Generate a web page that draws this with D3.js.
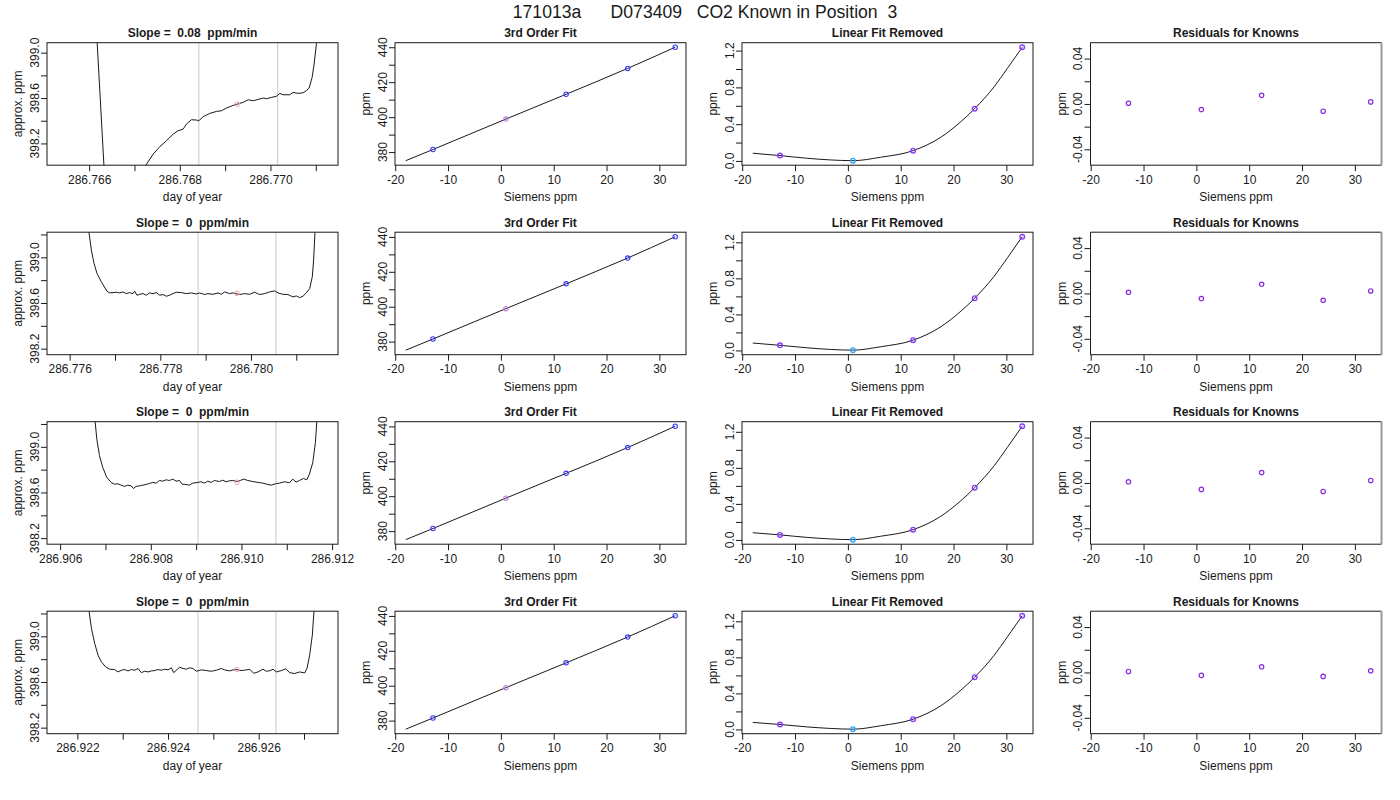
<!DOCTYPE html>
<html><head><meta charset="utf-8">
<script src="https://cdn.jsdelivr.net/npm/d3@7"></script>
<style>
body{margin:0;background:#fff}
svg{display:block;font-family:"Liberation Sans",Arial,Helvetica,sans-serif}
</style>
</head><body>
<svg id="chart" width="1400" height="800"></svg>
<script>
// ---------------- DATA ----------------
const mainTitle = "171013a      D073409   CO2 Known in Position  3";
const slopeTitles = ["Slope =  0.08  ppm/min", "Slope =  0  ppm/min", "Slope =  0  ppm/min", "Slope =  0  ppm/min"];

// time traces (day of year, approx. ppm)
const trace1 = [[286.76615,399.28],[286.76637,397.69],[286.76682,397.40],[286.76719,397.81],
[286.767243,398.003],[286.767412,398.106],[286.767559,398.171],[286.767706,398.224],[286.767853,398.282],[286.767963,398.312],
[286.768074,398.326],[286.768147,398.371],[286.768257,398.409],[286.768368,398.406],[286.768419,398.400],[286.768515,398.435],
[286.768662,398.465],[286.768809,398.482],[286.768919,398.488],[286.769029,398.512],[286.769176,398.535],[286.769272,398.547],
[286.769397,398.562],[286.769507,398.585],[286.769618,398.576],[286.769728,398.588],[286.769838,398.600],[286.769912,398.594],
[286.770022,398.606],[286.770132,398.615],[286.770206,398.641],[286.770279,398.629],[286.770426,398.629],[286.770500,398.650],
[286.770610,398.641],[286.770721,398.647],[286.770794,398.665],[286.770853,398.688],[286.770919,398.782],[286.770963,398.900],
[286.771015,399.082],[286.771051,399.282]];

const trace2 = [[286.776382,399.359],[286.776426,399.218],[286.776478,399.065],[286.776537,398.947],[286.776603,398.859],
[286.776699,398.785],[286.776824,398.703],[286.776882,398.688],[286.776956,398.691],[286.777029,398.694],[286.777103,398.688],
[286.777176,398.697],[286.777250,398.682],[286.777324,398.691],[286.777397,398.682],[286.777434,398.703],[286.777485,398.668],
[286.777544,398.676],[286.777618,398.682],[286.777691,398.668],[286.777765,398.688],[286.777838,398.682],[286.777912,398.691],
[286.777985,398.668],[286.778059,398.674],[286.778132,398.659],[286.778206,398.668],[286.778279,398.682],[286.778353,398.694],
[286.778463,398.691],[286.778574,398.682],[286.778684,398.688],[286.778794,398.679],[286.778868,398.688],[286.778978,398.674],
[286.779051,398.682],[286.779162,398.676],[286.779272,398.688],[286.779346,398.676],[286.779419,398.697],[286.779529,398.682],
[286.779603,398.688],[286.779750,398.674],[286.779860,398.682],[286.779971,398.676],[286.780081,398.694],[286.780191,398.674],
[286.780301,398.682],[286.780412,398.697],[286.780522,398.706],[286.780596,398.688],[286.780706,398.676],[286.780816,398.674],
[286.780926,398.653],[286.781000,398.662],[286.781074,398.647],[286.781147,398.659],[286.781221,398.688],[286.781294,398.726],
[286.781353,398.829],[286.781382,398.976],[286.781412,399.218],[286.781426,399.359]];

const trace3 = [[286.906743,399.360],[286.906772,399.220],[286.906809,399.068],[286.906868,398.922],[286.906941,398.819],
[286.907029,398.732],[286.907125,398.688],[286.907199,398.673],[286.907272,398.676],[286.907346,398.664],[286.907419,398.653],
[286.907493,398.664],[286.907566,398.658],[286.907618,398.635],[286.907676,398.653],[286.907750,398.658],[286.907824,398.664],
[286.907897,398.670],[286.907971,398.679],[286.908044,398.688],[286.908118,398.682],[286.908191,398.705],[286.908265,398.699],
[286.908338,398.711],[286.908412,398.705],[286.908485,398.717],[286.908559,398.699],[286.908632,398.705],[286.908691,398.673],
[286.908779,398.670],[286.908853,398.664],[286.908926,398.682],[286.909037,398.688],[286.909110,398.694],[286.909184,398.682],
[286.909257,398.699],[286.909331,398.688],[286.909404,398.705],[286.909515,398.696],[286.909588,398.708],[286.909662,398.694],
[286.909735,398.702],[286.909809,398.705],[286.909897,398.696],[286.909971,398.705],[286.910051,398.717],[286.910140,398.705],
[286.910250,398.696],[286.910360,398.688],[286.910471,398.682],[286.910581,398.670],[286.910654,398.664],[286.910750,398.676],
[286.910838,398.682],[286.910949,398.694],[286.911059,398.685],[286.911132,398.717],[286.911206,398.691],[286.911279,398.705],
[286.911368,398.723],[286.911441,398.711],[286.911500,398.761],[286.911574,398.863],[286.911632,399.039],[286.911662,399.220],
[286.911684,399.360]];

const trace4 = [[286.922213,399.365],[286.922257,399.224],[286.922309,399.071],[286.922382,398.938],[286.922456,398.835],
[286.922529,398.776],[286.922625,398.732],[286.922713,398.712],[286.922824,398.709],[286.922897,398.688],[286.922971,398.703],
[286.923044,398.709],[286.923118,398.697],[286.923191,398.709],[286.923265,398.703],[286.923338,398.718],[286.923412,398.682],
[286.923485,398.694],[286.923559,398.688],[286.923632,398.697],[286.923706,398.700],[286.923779,398.709],[286.923853,398.703],
[286.923926,398.712],[286.924000,398.706],[286.924074,398.724],[286.924125,398.682],[286.924184,398.703],[286.924257,398.729],
[286.924331,398.718],[286.924404,398.712],[286.924478,398.724],[286.924551,398.718],[286.924625,398.694],[286.924735,398.706],
[286.924846,398.700],[286.924956,398.694],[286.925066,398.703],[286.925176,398.718],[286.925250,398.706],[286.925360,398.697],
[286.925434,398.706],[286.925522,398.709],[286.925581,398.700],[286.925691,398.703],[286.925801,398.712],[286.925890,398.676],
[286.925985,398.688],[286.926096,398.712],[286.926169,398.694],[286.926257,398.700],[286.926316,398.712],[286.926390,398.688],
[286.926500,398.700],[286.926596,398.715],[286.926684,398.682],[286.926794,398.674],[286.926904,398.688],[286.927015,398.679],
[286.927066,398.718],[286.927125,398.835],[286.927184,399.012],[286.927221,399.224],[286.927243,399.365]];

const traces = [trace1, trace2, trace3, trace4];
const dayDomains = [[286.76507,286.77149],[286.77550,286.78192],[286.90571,286.91213],[286.92133,286.92775]];
const ppmDomains = [[398.008,399.088],[398.147,399.220],[398.147,399.220],[398.147,399.220]];
const dayTicks = [
  [286.766,286.767,286.768,286.769,286.770,286.771],
  [286.776,286.777,286.778,286.779,286.780,286.781],
  [286.906,286.907,286.908,286.909,286.910,286.911,286.912],
  [286.922,286.923,286.924,286.925,286.926,286.927]];
const dayTickLabels = [
  [286.766,286.768,286.770],
  [286.776,286.778,286.780],
  [286.906,286.908,286.910,286.912],
  [286.922,286.924,286.926]];
const ppmTicks = [[398.2,398.4,398.6,398.8,399.0],[398.2,398.4,398.6,398.8,399.0,399.2],[398.2,398.4,398.6,398.8,399.0,399.2],[398.2,398.4,398.6,398.8,399.0,399.2]];
const ppmTickLabels = [398.2,398.6,399.0];
const windowStart = [286.76842,286.77883,286.90904,286.92466];
const windowEnd   = [286.77016,286.78055,286.91076,286.92638];
const markerDay = [286.76927,286.77969,286.90990,286.92552];
const markerPpm = [398.546,398.685,398.690,398.709];

// known standards
const siemensX = [-12.85, 0.95, 12.35, 24.0, 33.0];
const knownPpm = [
  [381.5, 398.9, 413.1, 427.9, 440.0],
  [381.5, 398.9, 413.1, 427.9, 440.1],
  [381.5, 398.9, 413.1, 427.9, 440.1],
  [381.5, 398.9, 413.1, 427.9, 440.1]];
const fitLineX = [-18, -12.85, 0.95, 12.35, 24.0, 33.0];
const fitLinePpm = [
  [375.1, 381.5, 398.9, 413.1, 427.9, 440.0],
  [375.1, 381.5, 398.9, 413.1, 427.9, 440.1],
  [375.1, 381.5, 398.9, 413.1, 427.9, 440.1],
  [375.1, 381.5, 398.9, 413.1, 427.9, 440.1]];
const residCurveX = [-18, -12.85, -7.7, -3.3, 0.95, 6.2, 12.35, 17.6, 21.4, 24.0, 27.7, 30.2, 33.0];
const residCurve = [
  [0.084, 0.058, 0.029, 0.011, 0.003, 0.040, 0.112, 0.258, 0.428, 0.569, 0.808, 1.008, 1.237],
  [0.082, 0.057, 0.029, 0.011, 0.003, 0.041, 0.114, 0.263, 0.436, 0.580, 0.824, 1.028, 1.262],
  [0.080, 0.056, 0.028, 0.011, 0.003, 0.041, 0.114, 0.263, 0.436, 0.580, 0.824, 1.028, 1.262],
  [0.078, 0.055, 0.028, 0.011, 0.003, 0.041, 0.114, 0.263, 0.436, 0.580, 0.824, 1.028, 1.262]];
const knownResid = [
  [0.058, 0.003, 0.112, 0.569, 1.237],
  [0.057, 0.003, 0.114, 0.580, 1.262],
  [0.056, 0.003, 0.114, 0.580, 1.262],
  [0.055, 0.003, 0.114, 0.580, 1.262]];
const knownResiduals = [
  [0.0006, -0.0050, 0.0076, -0.0064, 0.0018],
  [0.0010, -0.0045, 0.0081, -0.0060, 0.0022],
  [0.0010, -0.0057, 0.0092, -0.0075, 0.0022],
  [0.0009, -0.0026, 0.0050, -0.0035, 0.0015]];
const siemensTicks = [-20, -10, 0, 10, 20, 30];
const fitPpmTicks = [380, 390, 400, 410, 420, 430, 440];
const fitPpmTickLabels = [380, 400, 420, 440];
const residTicks = [0, 0.2, 0.4, 0.6, 0.8, 1.0, 1.2];
const residTickLabels = [0, 0.4, 0.8, 1.2];
const residualTicks = [-0.04, -0.02, 0, 0.02, 0.04];
const residualTickLabels = [-0.04, 0, 0.04];
const residualDomain = [-0.054, 0.054];

// ---------------- LAYOUT ----------------
const svg = d3.select("#chart");
const colLeft = [47, 395, 742, 1090.5];
const rowTop = [42.7, 232.2, 421.7, 611.2];
const boxW = 291, boxH = 122.5;
const ink = "#1a1a1a";

svg.append("text").attr("x", 705).attr("y", 17.5).attr("text-anchor", "middle")
  .attr("font-size", 17.6).attr("fill", ink).style("white-space", "pre").text(mainTitle);

function pad(ext) { const r = ext[1] - ext[0]; return [ext[0] - 0.04 * r, ext[1] + 0.04 * r]; }
const has = (arr, v) => arr.some(a => Math.abs(a - v) < 1e-9);
let clipId = 0;

function panel(r, c, opt) {
  const g = svg.append("g").attr("transform", `translate(${colLeft[c]},${rowTop[r]})`);
  const x = d3.scaleLinear().domain(opt.xDomain).range([0, boxW]);
  const y = d3.scaleLinear().domain(opt.yDomain).range([boxH, 0]);
  const id = "clip" + (clipId++);
  g.append("clipPath").attr("id", id).append("rect").attr("width", boxW).attr("height", boxH);
  const plot = g.append("g").attr("clip-path", `url(#${id})`);

  // x axis
  const xa = g.append("g").attr("transform", `translate(0,${boxH})`)
    .call(d3.axisBottom(x).tickValues(opt.xTicks).tickSize(6).tickPadding(4)
      .tickFormat(d => has(opt.xLabels, d) ? opt.xFmt(d) : ""));
  xa.select(".domain").remove();
  xa.selectAll("line").attr("stroke", ink);
  xa.selectAll("text").attr("font-size", 12).attr("fill", ink).attr("font-family", null);
  xa.attr("font-family", null);

  // y axis
  const ya = g.append("g").call(d3.axisLeft(y).tickValues(opt.yTicks).tickSize(6).tickFormat(""));
  ya.select(".domain").remove();
  ya.selectAll("line").attr("stroke", ink);
  opt.yLabels.forEach(v => {
    const yy = y(v);
    g.append("text").attr("transform", `translate(-8.5,${yy}) rotate(-90)`)
      .attr("text-anchor", "middle").attr("font-size", 12).attr("fill", ink).text(opt.yFmt(v));
  });

  // labels
  g.append("text").attr("x", boxW / 2).attr("y", -5.5).attr("text-anchor", "middle")
    .attr("font-size", 12).attr("font-weight", "bold").attr("fill", ink).style("white-space", "pre").text(opt.title);
  g.append("text").attr("x", boxW / 2).attr("y", boxH + 36).attr("text-anchor", "middle")
    .attr("font-size", 12).attr("fill", ink).text(opt.xTitle);
  g.append("text").attr("transform", `translate(-25,${boxH / 2}) rotate(-90)`).attr("text-anchor", "middle")
    .attr("font-size", 12).attr("fill", ink).text(opt.yTitle);

  opt.draw(plot, x, y);

  // box
  if (opt.grayRight) {
    g.append("path").attr("d", `M${boxW},${boxH}H0V0H${boxW}`).attr("fill", "none").attr("stroke", ink).attr("stroke-width", 1);
    g.append("line").attr("x1", boxW).attr("x2", boxW).attr("y1", 0).attr("y2", boxH).attr("stroke", "#999").attr("stroke-width", 2);
  } else {
    g.append("rect").attr("width", boxW).attr("height", boxH).attr("fill", "none").attr("stroke", ink).attr("stroke-width", 1);
  }
}

const siemensDomain = pad(d3.extent(fitLineX));

for (let r = 0; r < 4; r++) {
  // column 1: time trace
  panel(r, 0, {
    xDomain: dayDomains[r], yDomain: ppmDomains[r],
    xTicks: dayTicks[r], xLabels: dayTickLabels[r], xFmt: d3.format(".3f"),
    yTicks: ppmTicks[r], yLabels: ppmTickLabels, yFmt: d => d.toFixed(1),
    title: slopeTitles[r], xTitle: "day of year", yTitle: "approx. ppm",
    draw: (p, x, y) => {
      [windowStart[r], windowEnd[r]].forEach(v => {
        p.append("line").attr("x1", x(v)).attr("x2", x(v)).attr("y1", 0).attr("y2", boxH)
          .attr("stroke", "#c8c8c8").attr("stroke-width", 1);
      });
      p.append("path").datum(traces[r]).attr("fill", "none").attr("stroke", ink).attr("stroke-width", 1)
        .attr("d", d3.line().x(d => x(d[0])).y(d => y(d[1])));
      p.append("circle").attr("cx", x(markerDay[r])).attr("cy", y(markerPpm[r])).attr("r", 2.3)
        .attr("fill", "none").attr("stroke", "#f2a0a8").attr("stroke-width", 1);
    }
  });

  // column 2: 3rd order fit
  const fitDomain = pad(d3.extent(fitLinePpm[r]));
  panel(r, 1, {
    xDomain: siemensDomain, yDomain: fitDomain,
    xTicks: siemensTicks, xLabels: siemensTicks, xFmt: d => String(d),
    yTicks: fitPpmTicks, yLabels: fitPpmTickLabels, yFmt: d => String(d),
    title: "3rd Order Fit", xTitle: "Siemens ppm", yTitle: "ppm",
    draw: (p, x, y) => {
      p.append("path").datum(fitLineX.map((v, i) => [v, fitLinePpm[r][i]])).attr("fill", "none")
        .attr("stroke", ink).attr("stroke-width", 1)
        .attr("d", d3.line().curve(d3.curveMonotoneX).x(d => x(d[0])).y(d => y(d[1])));
      siemensX.forEach((v, i) => {
        p.append("circle").attr("cx", x(v)).attr("cy", y(knownPpm[r][i])).attr("r", 2.2)
          .attr("fill", "none").attr("stroke", i === 1 ? "#c07ee0" : "#3a3aff").attr("stroke-width", 1.1);
      });
    }
  });

  // column 3: linear fit removed
  const rDomain = pad(d3.extent(residCurve[r].concat(knownResid[r])));
  panel(r, 2, {
    xDomain: siemensDomain, yDomain: rDomain,
    xTicks: siemensTicks, xLabels: siemensTicks, xFmt: d => String(d),
    yTicks: residTicks, yLabels: residTickLabels, yFmt: d => d.toFixed(1),
    title: "Linear Fit Removed", xTitle: "Siemens ppm", yTitle: "ppm",
    draw: (p, x, y) => {
      p.append("path").datum(residCurveX.map((v, i) => [v, residCurve[r][i]])).attr("fill", "none")
        .attr("stroke", ink).attr("stroke-width", 1)
        .attr("d", d3.line().curve(d3.curveMonotoneX).x(d => x(d[0])).y(d => y(d[1])));
      siemensX.forEach((v, i) => {
        p.append("circle").attr("cx", x(v)).attr("cy", y(knownResid[r][i])).attr("r", 2.3)
          .attr("fill", "none").attr("stroke", i === 1 ? "#33a8ff" : "#8a3cff").attr("stroke-width", 1.4);
      });
    }
  });

  // column 4: residuals
  panel(r, 3, {
    xDomain: siemensDomain, yDomain: residualDomain,
    xTicks: siemensTicks, xLabels: siemensTicks, xFmt: d => String(d),
    yTicks: residualTicks, yLabels: residualTickLabels, yFmt: d => d.toFixed(2),
    title: "Residuals for Knowns", xTitle: "Siemens ppm", yTitle: "ppm", grayRight: true,
    draw: (p, x, y) => {
      siemensX.forEach((v, i) => {
        p.append("circle").attr("cx", x(v)).attr("cy", y(knownResiduals[r][i])).attr("r", 2.2)
          .attr("fill", "none").attr("stroke", "#8a2be2").attr("stroke-width", 1.2);
      });
    }
  });
}
</script>
</body></html>
